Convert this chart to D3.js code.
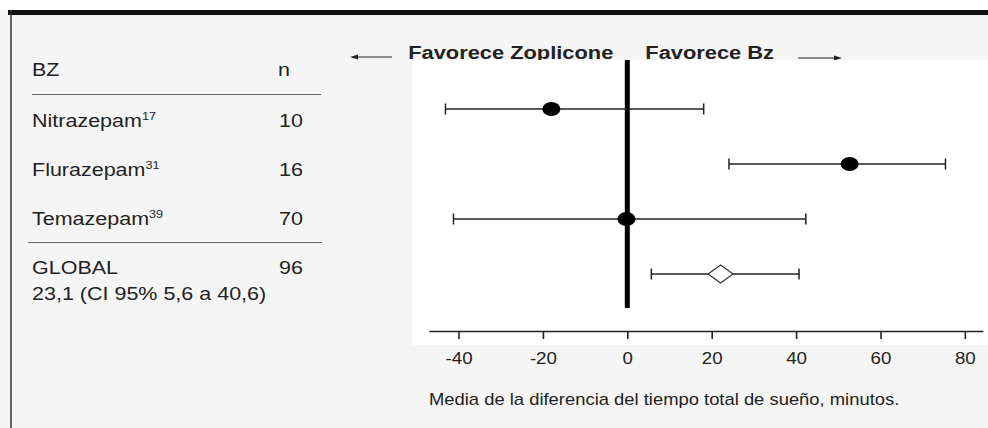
<!DOCTYPE html>
<html>
<head>
<meta charset="utf-8">
<script src="https://cdn.jsdelivr.net/npm/d3@7"></script>
<style>
  body { margin: 0; background: #f5f5f5; }
  svg { display: block; font-family: "Liberation Sans", Arial, sans-serif; }
</style>
</head>
<body>
<div class="forest"></div>
<script>
// --- Data ---
const studies = ["Nitrazepam", "Flurazepam", "Temazepam", "GLOBAL"];
const refs = ["17", "31", "39", ""];
const nValues = [10, 16, 70, 96];
const means = [-18, 52.7, -0.2, 22.1];
const lower = [-43.1, 24.1, -41.2, 5.7];
const upper = [18.1, 75.4, 42.3, 40.7];
const globalText = "23,1 (CI 95% 5,6 a 40,6)";
const xTicks = [-40, -20, 0, 20, 40, 60, 80];
const xLabel = "Media de la diferencia del tiempo total de sueño, minutos.";

// --- Config ---
const width = 988;
const height = 428;
const stretch = 1.15;   // the source text is a bit wide
const ink = "#222";

const svg = d3.select(".forest")
  .append("svg")
  .attr("width", width)
  .attr("height", height);

// wide text helper
function wideText(g, x, y, str, size, anchor, weight) {
  return g.append("text")
    .attr("transform", `translate(${x},${y}) scale(${stretch},1)`)
    .attr("text-anchor", anchor || "start")
    .style("font-size", `${size}px`)
    .style("font-weight", weight || "normal")
    .attr("fill", ink)
    .text(str);
}

// --- Scales ---
const x = d3.scaleLinear().domain([-47, 84.3]).range([429, 983]);
const yPlot = d3.scalePoint().domain(studies).range([109, 274]);
const yTable = d3.scalePoint().domain(studies).range([127, 274]);

// --- Frame ---
svg.append("rect").attr("x", 0).attr("y", 0).attr("width", width).attr("height", 10).attr("fill", "#fff");
svg.append("rect").attr("x", 8).attr("y", 10).attr("width", width - 8).attr("height", 5).attr("fill", "#111");
svg.append("line")
  .attr("x1", 11).attr("x2", 11).attr("y1", 10).attr("y2", height)
  .attr("stroke", "#333").attr("stroke-width", 1.5);

// --- Favorece headers + arrows ---
wideText(svg, x(0) - 14, 59, "Favorece Zoplicone", 19, "end", "bold");
wideText(svg, x(0) + 18, 59, "Favorece Bz", 19, "start", "bold");

svg.append("line").attr("x1", 356).attr("x2", 392).attr("y1", 57).attr("y2", 57)
  .attr("stroke", ink).attr("stroke-width", 1);
svg.append("path").attr("d", "M350,57 L358,54.5 L358,59.5 Z").attr("fill", ink);
svg.append("line").attr("x1", 798).attr("x2", 836).attr("y1", 58).attr("y2", 58)
  .attr("stroke", ink).attr("stroke-width", 1);
svg.append("path").attr("d", "M842,58 L834,55.5 L834,60.5 Z").attr("fill", ink);

// --- Plot panel ---
svg.append("rect")
  .attr("x", 412).attr("y", 60)
  .attr("width", width - 412).attr("height", 285)
  .attr("fill", "#fff");

// zero line
svg.append("line")
  .attr("x1", x(0)).attr("x2", x(0))
  .attr("y1", 60).attr("y2", 308)
  .attr("stroke", "#000").attr("stroke-width", 5);

// --- X axis ---
const xAxis = d3.axisBottom(x)
  .tickValues(xTicks)
  .tickSize(8)
  .tickSizeOuter(0)
  .tickPadding(13.4)
  .tickFormat(d => String(d));

const axisG = svg.append("g")
  .attr("transform", "translate(0,331)")
  .call(xAxis);
axisG.select(".domain").attr("stroke", ink).attr("stroke-width", 1.6);
axisG.selectAll(".tick line").attr("stroke", ink).attr("stroke-width", 1.6);
axisG.selectAll(".tick text")
  .attr("fill", ink)
  .attr("transform", `scale(${stretch},1)`)
  .style("font-size", "16.3px")
  .style("font-family", "'Liberation Sans', Arial, sans-serif");

wideText(svg, 429, 405, xLabel, 16, "start");

// --- Error bars ---
const rows = studies.map((s, i) => ({ s, i, mean: means[i], lo: lower[i], hi: upper[i] }));

const bars = svg.append("g").selectAll("g").data(rows).join("g")
  .attr("transform", d => `translate(0,${yPlot(d.s)})`);

bars.append("line")
  .attr("x1", d => x(d.lo)).attr("x2", d => x(d.hi))
  .attr("stroke", ink).attr("stroke-width", 1.5);
bars.append("line")
  .attr("x1", d => x(d.lo)).attr("x2", d => x(d.lo))
  .attr("y1", -5.5).attr("y2", 5.5)
  .attr("stroke", ink).attr("stroke-width", 1.5);
bars.append("line")
  .attr("x1", d => x(d.hi)).attr("x2", d => x(d.hi))
  .attr("y1", -5.5).attr("y2", 5.5)
  .attr("stroke", ink).attr("stroke-width", 1.5);

// study points
bars.filter(d => d.s !== "GLOBAL").append("ellipse")
  .attr("cx", d => x(d.mean)).attr("cy", 0)
  .attr("rx", 9).attr("ry", 7)
  .attr("fill", "#000");

// pooled diamond
bars.filter(d => d.s === "GLOBAL").append("path")
  .attr("d", d => {
    const cx = x(d.mean);
    return `M${cx - 12.5},0 L${cx},-9 L${cx + 12.5},0 L${cx},9 Z`;
  })
  .attr("fill", "#fff").attr("stroke", "#333").attr("stroke-width", 1.2);

// --- Left table ---
const table = svg.append("g");
wideText(table, 32, 76, "BZ", 18.7, "start");
wideText(table, 278, 76, "n", 18.7, "start");

table.append("line").attr("x1", 32).attr("x2", 321).attr("y1", 94.5).attr("y2", 94.5)
  .attr("stroke", "#666").attr("stroke-width", 1);
table.append("line").attr("x1", 28).attr("x2", 322).attr("y1", 242.5).attr("y2", 242.5)
  .attr("stroke", "#666").attr("stroke-width", 1);

studies.forEach((s, i) => {
  const yy = yTable(s);
  const t = wideText(table, 32, yy, s, 18.7, "start");
  if (refs[i]) {
    t.append("tspan")
      .attr("dy", -7.5)
      .style("font-size", "11px")
      .text(refs[i]);
  }
  wideText(table, 279, yy, nValues[i], 18.7, "start");
});
wideText(table, 32, yTable("GLOBAL") + 26, globalText, 18.7, "start");
</script>
</body>
</html>
